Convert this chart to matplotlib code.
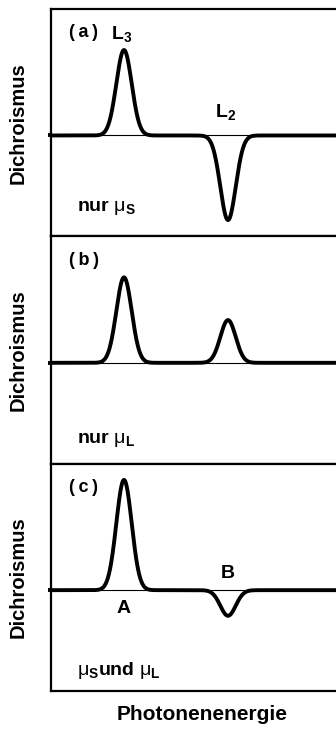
import numpy as np
import matplotlib.pyplot as plt

plt.rcParams['font.family'] = ['Liberation Sans', 'DejaVu Sans']
plt.rcParams['mathtext.fontset'] = 'custom'
plt.rcParams['mathtext.rm'] = 'Liberation Sans'
plt.rcParams['mathtext.it'] = 'Liberation Sans'
plt.rcParams['mathtext.bf'] = 'Liberation Sans:bold'

# peak positions (photon energy, arbitrary units) and heights per panel
centers = [25.6, 62.1]
width = 2.7
heights_a = [1.0, -0.99]
heights_b = [1.0, 0.5]
heights_c = [1.29, -0.30]
panel_tags = ['(\u2009a\u2009)', '(\u2009b\u2009)', '(\u2009c\u2009)']
notes = [r'nur $\mathrm{\mu}_{\mathbf{S}}$', r'nur $\mathrm{\mu}_{\mathbf{L}}$',
         r'$\mathrm{\mu}_{\mathbf{S}}$und $\mathrm{\mu}_{\mathbf{L}}$']
note_y = [0.11, 0.093, 0.07]

x = np.linspace(0, 100, 1000)

fig = plt.figure(figsize=(3.36, 7.29), dpi=100)
axes = fig.subplots(3, 1, sharex=True)
fig.subplots_adjust(left=0.152, right=1.0, top=0.9877, bottom=0.0521, hspace=0)

for ax, hts, tag, note, ny in zip(axes, [heights_a, heights_b, heights_c], panel_tags, notes, note_y):
    y = np.zeros_like(x)
    for c, h in zip(centers, hts):
        y += h * np.exp(-0.5 * ((x - c) / width) ** 2)
    ax.axhline(0, color='black', lw=0.8)
    ax.plot(x, y, color='black', lw=2.8, solid_capstyle='butt')
    ax.set_xlim(0, 100)
    ax.set_ylim(-1.18, 1.48)
    ax.spines['right'].set_visible(False)
    for s in ['left', 'top', 'bottom']:
        ax.spines[s].set_linewidth(1.6)
    ax.set_xticks([])
    ax.set_yticks([0])
    ax.set_yticklabels([])
    ax.tick_params(axis='y', length=2.5, width=2.8, direction='out')
    ax.set_ylabel('Dichroismus', fontsize=14.5, fontweight='bold')
    ax.yaxis.set_label_coords(-0.084, 0.5)
    ax.text(0.063, 0.895, tag, transform=ax.transAxes, fontsize=13,
            fontweight='bold', va='center', ha='left')
    ax.text(0.09, ny, note, transform=ax.transAxes, fontsize=14,
            fontweight='bold', va='baseline', ha='left')

axes[0].text(centers[0] - 4.6, 1.13, r'L$_{\mathbf{3}}$', fontsize=14,
             fontweight='bold', va='baseline', ha='left')
axes[0].text(centers[1] - 4.6, 0.22, r'L$_{\mathbf{2}}$', fontsize=14,
             fontweight='bold', va='baseline', ha='left')
axes[2].text(centers[0], -0.27, 'A', fontsize=14, fontweight='bold',
             va='baseline', ha='center')
axes[2].text(centers[1], 0.14, 'B', fontsize=14, fontweight='bold',
             va='baseline', ha='center')

axes[2].set_xlabel('Photonenenergie', fontsize=15, fontweight='bold')
axes[2].xaxis.set_label_coords((202 - 51) / 285, -0.06)

fig.savefig('out.png', dpi=100)
